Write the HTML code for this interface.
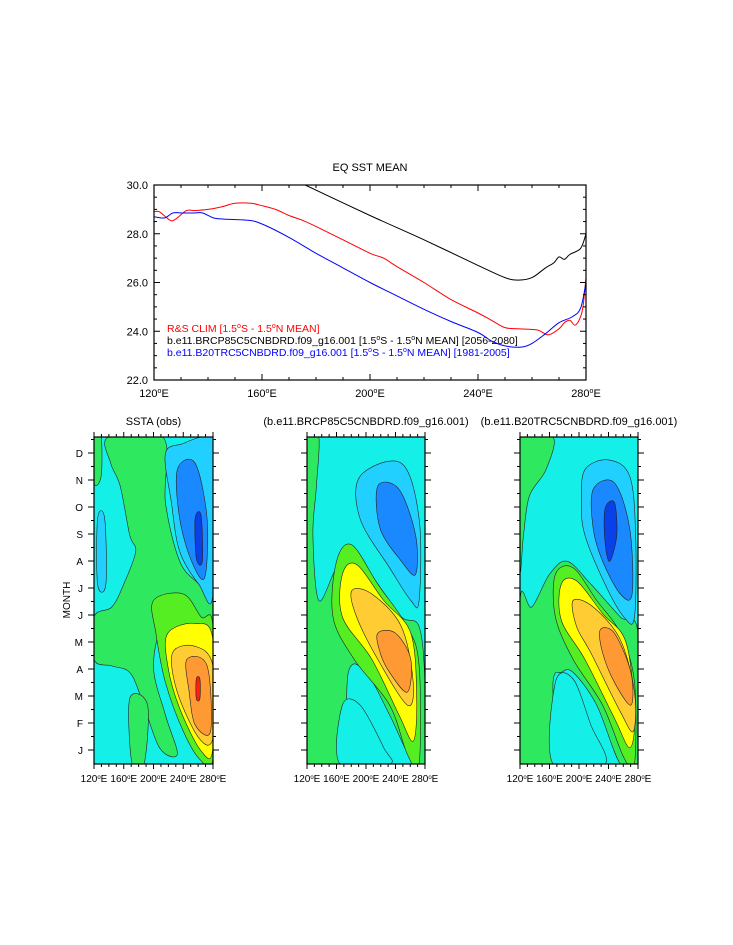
<!DOCTYPE html>
<html><head><meta charset="utf-8"><style>
body{margin:0;background:#fff;width:733px;height:945px;overflow:hidden}
svg{display:block;font-family:"Liberation Sans",sans-serif}
</style></head><body>
<svg id="s" width="733" height="945">
<text x="370" y="171" font-size="11" text-anchor="middle">EQ SST MEAN</text>
<g id="topchart"></g>
<g id="panels"></g>
</svg>
<script>
const lonR=[120,122,126,128,132,135,140,145,150,156,160,165,170,175,180,190,200,205,210,220,230,240,245,250,255,262,266,270,272,274,276,278,279,280];
const sstR=[28.9,28.9,28.55,28.6,28.95,28.95,29.0,29.1,29.25,29.25,29.15,29.0,28.75,28.55,28.3,27.75,27.2,27.0,26.65,26.0,25.3,24.75,24.45,24.15,24.1,24.05,23.85,24.1,24.35,24.45,24.25,24.6,25.1,26.2];
const lonB=[120,124,127,131,135,138,142,146,155,160,170,180,190,200,210,220,230,240,245,250,256,260,265,270,275,278,280];
const sstB=[28.7,28.65,28.85,28.85,28.85,28.85,28.65,28.6,28.55,28.4,27.85,27.2,26.6,26.0,25.45,24.9,24.4,23.95,23.6,23.4,23.35,23.5,23.9,24.35,24.6,24.95,26.0];
const lonK=[176,200,220,240,250,255,260,265,268,270,272,274,278,280];
const sstK=[30.0,28.75,27.75,26.7,26.2,26.1,26.2,26.6,26.8,27.05,26.95,27.15,27.4,28.0];
const yTicks=[22,24,26,28,30];
const xTicks=[120,160,200,240,280];
const months=["J","F","M","A","M","J","J","A","S","O","N","D"];
const NS="http://www.w3.org/2000/svg";
function mk(p,t,a){const e=document.createElementNS(NS,t);for(const k in a)e.setAttribute(k,a[k]);p.appendChild(e);return e;}
function smooth(pts,closed){const n=pts.length;let d='M'+pts[0][0].toFixed(1)+','+pts[0][1].toFixed(1);
const g=i=>closed?pts[(i+n)%n]:pts[Math.max(0,Math.min(n-1,i))];const m=closed?n:n-1;
for(let i=0;i<m;i++){const p0=g(i-1),p1=g(i),p2=g(i+1),p3=g(i+2);
const c1=[p1[0]+(p2[0]-p0[0])/6,p1[1]+(p2[1]-p0[1])/6],c2=[p2[0]-(p3[0]-p1[0])/6,p2[1]-(p3[1]-p1[1])/6];
d+='C'+c1[0].toFixed(1)+','+c1[1].toFixed(1)+' '+c2[0].toFixed(1)+','+c2[1].toFixed(1)+' '+p2[0].toFixed(1)+','+p2[1].toFixed(1);}
return d+(closed?'Z':'');}
const X0=154,X1=586,Y0=185,Y1=380;
const sx=v=>X0+(v-120)/160*(X1-X0), sy=v=>Y1-(v-22)/8*(Y1-Y0);
const topG=document.getElementById('topchart');
const clip=mk(topG,'clipPath',{id:'tc'});mk(clip,'rect',{x:X0,y:Y0,width:X1-X0,height:Y1-Y0});
function line(lon,v,c,name){const d=smooth(lon.map((l,i)=>[sx(l),sy(v[i])]),false);
const p=mk(topG,'path',{d:d,fill:'none',stroke:c,'stroke-width':1,'clip-path':'url(#tc)'});

}
line(lonR,sstR,'#f00','line-rs-clim');line(lonK,sstK,'#000','line-rcp85');line(lonB,sstB,'#00f','line-20tr');
mk(topG,'rect',{x:X0,y:Y0,width:X1-X0,height:Y1-Y0,fill:'none',stroke:'#000','stroke-width':1.2});
for(let v=22;v<=30;v+=0.5){const L=(v%2===0)?6:3;mk(topG,'line',{x1:X0,x2:X0+L,y1:sy(v),y2:sy(v),stroke:'#000'});mk(topG,'line',{x1:X1,x2:X1-L,y1:sy(v),y2:sy(v),stroke:'#000'});}
yTicks.forEach(v=>{const t=mk(topG,'text',{x:X0-6,y:sy(v)+4,'font-size':11,'text-anchor':'end'});t.textContent=v.toFixed(1);

});
for(let l=120;l<=280;l+=10){const L=(l%40===0)?6:3;mk(topG,'line',{x1:sx(l),x2:sx(l),y1:Y1,y2:Y1-L,stroke:'#000'});mk(topG,'line',{x1:sx(l),x2:sx(l),y1:Y0,y2:Y0+L,stroke:'#000'});}
xTicks.forEach(l=>{const t=mk(topG,'text',{x:sx(l),y:Y1+17,'font-size':11,'text-anchor':'middle'});t.innerHTML=l+'<tspan dy="-4" font-size="7">o</tspan><tspan dy="4">E</tspan>';

});
[['#f00','R&amp;S CLIM [1.5<tspan dy="-4" font-size="7">o</tspan><tspan dy="4">S - 1.5</tspan><tspan dy="-4" font-size="7">o</tspan><tspan dy="4">N MEAN]</tspan>'],
['#000','b.e11.BRCP85C5CNBDRD.f09_g16.001 [1.5<tspan dy="-4" font-size="7">o</tspan><tspan dy="4">S - 1.5</tspan><tspan dy="-4" font-size="7">o</tspan><tspan dy="4">N MEAN] [2056-2080]</tspan>'],
['#00f','b.e11.B20TRC5CNBDRD.f09_g16.001 [1.5<tspan dy="-4" font-size="7">o</tspan><tspan dy="4">S - 1.5</tspan><tspan dy="-4" font-size="7">o</tspan><tspan dy="4">N MEAN] [1981-2005]</tspan>']].forEach((a,i)=>{
const t=mk(topG,'text',{x:167,y:332+i*12,'font-size':10.5,fill:a[0]});t.innerHTML=a[1];

});

const C={cy:'#14f0e8',gr:'#2ee860',ch:'#55ee22',lb:'#22d0ff',bl:'#1a88ff',db:'#0a40e8',ye:'#ffff00',go:'#ffcc33',or:'#ff9933',re:'#ff2010'};
const P1=[['gr',[0,0,.06,0,.06,.12,0,.14]],
['gr',[.12,0,.58,0,.6,.2,.72,.38,.88,.45,1,.5,1,.62,.85,.57,.6,.56,.5,.7,.6,.85,.7,.97,.55,.95,.4,.8,.3,.72,.15,.7,0,.68,0,.55,.15,.52,.25,.45,.35,.35,.3,.3,.22,.15,.14,.08]],
['gr',[.3,.8,.45,.82,.42,1,.32,1]],
['lb',[.03,.25,.09,.25,.1,.45,.03,.45]],
['ch',[.5,.5,.75,.48,.9,.55,1,.58,1,.98,.9,.99,.75,.9,.6,.75,.52,.6]],
['ye',[.62,.6,.85,.57,1,.62,1,.95,.9,.96,.72,.83,.62,.7]],
['go',[.66,.66,.85,.64,1,.7,1,.92,.88,.92,.7,.78]],
['or',[.78,.68,.95,.7,.98,.9,.85,.88,.8,.78]],
['re',[.86,.74,.89,.74,.89,.8,.86,.8]],
['lb',[.6,.05,.75,.02,.9,0,1,0,1,.48,.88,.45,.72,.35,.65,.2]],
['bl',[.7,.1,.85,.08,.95,.25,.93,.43,.82,.38,.72,.25]],
['db',[.85,.25,.9,.24,.91,.38,.86,.37]]];
const P2=[['gr',[0,0,.1,0,.08,.15,.05,.3,.1,.5,.25,.4,.4,.35,.6,.45,.8,.55,.95,.58,1,.75,1,1,.9,1,.7,.85,.5,.72,.35,.72,.3,1,0,1]],
['cy',[.3,.82,.45,.82,.65,.95,.7,1,.28,1]],
['ch',[.25,.38,.38,.33,.6,.45,.85,.58,.95,.7,.95,1,.85,.97,.7,.82,.4,.68,.22,.55]],
['ye',[.3,.42,.42,.39,.65,.5,.88,.6,.93,.8,.9,.93,.78,.85,.55,.68,.3,.55]],
['go',[.38,.47,.55,.48,.8,.58,.9,.75,.85,.82,.6,.68,.42,.55]],
['or',[.6,.6,.75,.6,.88,.68,.85,.78,.7,.72,.62,.66]],
['lb',[.45,.12,.8,.08,.95,.25,.95,.5,.88,.5,.7,.4,.45,.25]],
['bl',[.6,.15,.78,.16,.92,.3,.92,.42,.8,.38,.62,.28]]];
const P3=[['gr',[0,0,.28,0,.22,.1,.08,.18,.03,.3,0,.4]],
['gr',[0,.5,.1,.52,.25,.42,.4,.38,.6,.45,.85,.55,1,.6,1,1,.85,1,.65,.82,.45,.72,.35,.72,.28,.75,.28,1,0,1]],
['cy',[.3,.75,.45,.74,.6,.88,.72,1,.28,1]],
['ch',[.3,.42,.45,.4,.65,.5,.85,.6,.97,.75,.97,1,.88,.98,.7,.82,.45,.68,.3,.55]],
['ye',[.35,.45,.48,.44,.7,.54,.9,.63,.97,.85,.93,.95,.8,.86,.55,.68,.35,.56]],
['go',[.45,.5,.62,.52,.85,.62,.97,.78,.96,.9,.85,.84,.6,.66,.48,.58]],
['or',[.68,.59,.8,.6,.94,.72,.94,.82,.8,.75,.7,.66]],
['lb',[.55,.1,.75,.07,.93,.12,.98,.3,.97,.55,.88,.55,.72,.45,.55,.3,.52,.2]],
['bl',[.62,.16,.8,.14,.93,.28,.95,.48,.85,.48,.7,.38,.62,.28]],
['db',[.72,.22,.8,.2,.82,.3,.76,.38,.72,.32]]];
const panels=[{x:94,w:119,t:'SSTA (obs)',d:P1,n:'panel-obs'},{x:307,w:118,t:'(b.e11.BRCP85C5CNBDRD.f09_g16.001)',d:P2,n:'panel-rcp85'},{x:520,w:118,t:'(b.e11.B20TRC5CNBDRD.f09_g16.001)',d:P3,n:'panel-20tr'}];
const PY=437,PH=327;
const pg=document.getElementById('panels');
panels.forEach((p,pi)=>{
const g=mk(pg,'g',{});


const cp=mk(g,'clipPath',{id:'pc'+pi});mk(cp,'rect',{x:p.x,y:PY,width:p.w,height:PH});
const inner=mk(g,'g',{'clip-path':'url(#pc'+pi+')'});
mk(inner,'rect',{x:p.x,y:PY,width:p.w,height:PH,fill:C.cy});
p.d.forEach(([c,pts])=>{const arr=[];for(let i=0;i<pts.length;i+=2)arr.push([p.x+pts[i]*p.w,PY+pts[i+1]*PH]);
const e=mk(inner,'path',{d:smooth(arr,true),fill:C[c],stroke:'#222','stroke-width':0.6});

});
mk(g,'rect',{x:p.x,y:PY,width:p.w,height:PH,fill:'none',stroke:'#000','stroke-width':1.2});
const tt=mk(g,'text',{x:p.x+p.w/2,y:PY-12,'font-size':11,'text-anchor':'middle'});tt.textContent=p.t;


for(let l=120;l<=280;l+=10){const xx=p.x+(l-120)/160*p.w,L=l%40===0?5:3;mk(g,'line',{x1:xx,x2:xx,y1:PY,y2:PY-L,stroke:'#000'});mk(g,'line',{x1:xx,x2:xx,y1:PY+PH,y2:PY+PH+L,stroke:'#000'});}
xTicks.forEach(l=>{const t=mk(g,'text',{x:p.x+(l-120)/160*p.w,y:PY+PH+18,'font-size':10,'text-anchor':'middle'});t.innerHTML=l+'<tspan dy="-3" font-size="6">o</tspan><tspan dy="3">E</tspan>';

});
for(let k=0;k<24;k++){const yy=PY+PH-14-k*13.5,L=k%2===0?6:3;if(yy<PY)continue;
mk(g,'line',{x1:p.x,x2:p.x-L,y1:yy,y2:yy,stroke:'#000'});mk(g,'line',{x1:p.x+p.w,x2:p.x+p.w+L,y1:yy,y2:yy,stroke:'#000'});}
if(pi===0){months.forEach((m,i)=>{const t=mk(g,'text',{x:p.x-11,y:PY+PH-14-i*27+4,'font-size':10,'text-anchor':'end'});t.textContent=m;

});
const yt=mk(g,'text',{x:70,y:600,'font-size':10,'text-anchor':'middle',transform:'rotate(-90 70 600)'});yt.textContent='MONTH';

}
});
</script>
</body></html>
